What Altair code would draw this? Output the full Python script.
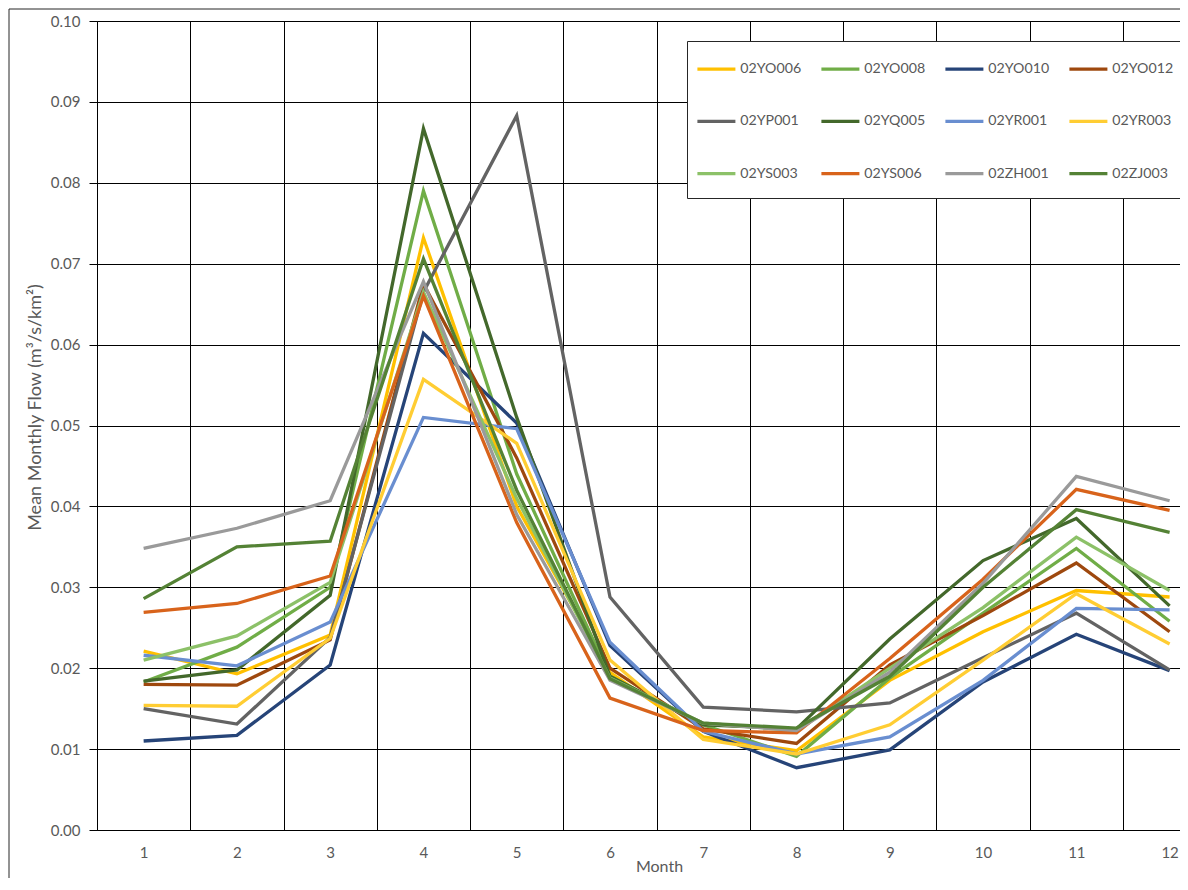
import altair as alt
import pandas as pd

months = list(range(1, 13))

stations = ["02YO006", "02YO008", "02YO010", "02YO012",
            "02YP001", "02YQ005", "02YR001", "02YR003",
            "02YS003", "02YS006", "02ZH001", "02ZJ003"]

colors = ["#FFC000", "#70AD47", "#264478", "#9E480E",
          "#636363", "#43682B", "#698ED0", "#FFCD33",
          "#8CC168", "#D8631B", "#9A9A9A", "#548235"]

yo006 = [0.0221, 0.0193, 0.0241, 0.0732, 0.0400, 0.0195, 0.0115, 0.0098, 0.0185, 0.0245, 0.0296, 0.0288]
yo008 = [0.0183, 0.0226, 0.0300, 0.0790, 0.0440, 0.0190, 0.0130, 0.0091, 0.0188, 0.0268, 0.0348, 0.0258]
yo010 = [0.0110, 0.0117, 0.0204, 0.0614, 0.0503, 0.0228, 0.0122, 0.0077, 0.0099, 0.0183, 0.0242, 0.0197]
yo012 = [0.0180, 0.0179, 0.0235, 0.0675, 0.0460, 0.0200, 0.0125, 0.0107, 0.0204, 0.0265, 0.0330, 0.0245]
yp001 = [0.0150, 0.0131, 0.0238, 0.0665, 0.0883, 0.0288, 0.0152, 0.0146, 0.0157, 0.0213, 0.0268, 0.0198]
yq005 = [0.0184, 0.0198, 0.0290, 0.0867, 0.0510, 0.0190, 0.0130, 0.0125, 0.0236, 0.0333, 0.0385, 0.0277]
yr001 = [0.0216, 0.0203, 0.0257, 0.0510, 0.0496, 0.0232, 0.0122, 0.0094, 0.0115, 0.0185, 0.0274, 0.0272]
yr003 = [0.0154, 0.0153, 0.0237, 0.0557, 0.0478, 0.0210, 0.0112, 0.0094, 0.0130, 0.0210, 0.0292, 0.0230]
ys003 = [0.0210, 0.0240, 0.0306, 0.0665, 0.0410, 0.0188, 0.0132, 0.0123, 0.0200, 0.0275, 0.0362, 0.0296]
ys006 = [0.0269, 0.0280, 0.0314, 0.0660, 0.0380, 0.0163, 0.0123, 0.0120, 0.0212, 0.0310, 0.0421, 0.0395]
zh001 = [0.0348, 0.0373, 0.0407, 0.0678, 0.0390, 0.0185, 0.0132, 0.0123, 0.0195, 0.0305, 0.0437, 0.0407]
zj003 = [0.0286, 0.0350, 0.0357, 0.0706, 0.0420, 0.0187, 0.0132, 0.0126, 0.0190, 0.0300, 0.0396, 0.0368]

series = [yo006, yo008, yo010, yo012, yp001, yq005,
          yr001, yr003, ys003, ys006, zh001, zj003]

y_ticks = [0.0, 0.01, 0.02, 0.03, 0.04, 0.05, 0.06, 0.07, 0.08, 0.09, 0.10]
x_bounds = [0.5, 1.5, 2.5, 3.5, 4.5, 5.5, 6.5, 7.5, 8.5, 9.5, 10.5, 11.5]

rows = []
for name, vals in zip(stations, series):
    for m, v in zip(months, vals):
        rows.append({"station": name, "month": m, "flow": v})
df = pd.DataFrame(rows)

W = 1083
H = 809
CAT = 93.27
FONT = "Lato"
TXT = "#595959"

x_axis = alt.Axis(
    values=x_bounds,
    labelExpr="format(datum.value + 0.5, 'd')",
    labelOffset=CAT / 2,
    grid=True, gridColor="#000000", gridWidth=1,
    ticks=False,
    domainColor="#000000", domainWidth=1,
    labelFont=FONT, labelFontSize=15, labelColor=TXT, labelPadding=15,
    labelFlush=False, labelOverlap=False,
    title="Month", titleFont=FONT, titleFontSize=16, titleColor=TXT,
    titleFontWeight="normal", titleX=562, titleY=36,
    titleAlign="center", titleBaseline="middle",
)

y_axis = alt.Axis(
    values=y_ticks, format=".2f",
    grid=True, gridColor="#000000", gridWidth=1,
    ticks=True, tickSize=8, tickColor="#000000", tickWidth=1,
    domainColor="#000000", domainWidth=1,
    labelFont=FONT, labelFontSize=15, labelColor=TXT, labelPadding=9,
    labelFlush=False, labelOverlap=False,
    title="Mean Monthly Flow (m³/s/km²)", titleFont=FONT, titleFontSize=18,
    titleColor=TXT, titleFontWeight="normal", titleAngle=270,
    titleX=-62, titleY=386, titleAlign="center", titleBaseline="middle",
)

legend = alt.Legend(
    orient="none", legendX=590, legendY=20, direction="horizontal", columns=4,
    title=None, symbolType="M-1,0H3", symbolSize=361, symbolStrokeWidth=3.3,
    labelFont=FONT, labelFontSize=14.2, labelColor=TXT,
    labelOffset=21.9, symbolOffset=-8.1, labelLimit=200, padding=16.5,
    strokeColor="#262626", fillColor="#FFFFFF",
    rowPadding=33.3, columnPadding=13, gridAlign="all",
)

lines = alt.Chart(df).mark_line(strokeWidth=3.3, clip=True).encode(
    x=alt.X("month:Q", scale=alt.Scale(domain=[0.5, 0.5 + W / CAT], nice=False, zero=False), axis=x_axis),
    y=alt.Y("flow:Q", scale=alt.Scale(domain=[0, 0.1], nice=False, zero=True), axis=y_axis),
    color=alt.Color("station:N", scale=alt.Scale(domain=stations, range=colors), legend=legend),
)

border = alt.Chart(alt.Data(values=[{"b": 1}])).mark_rect(
    fill="#FFFFFF", fillOpacity=0, stroke="#262626", strokeWidth=1
).encode(
    x=alt.value(-88), x2=alt.value(W + 40),
    y=alt.value(-12), y2=alt.value(H + 100),
)

chart = alt.layer(border, lines).properties(
    width=W, height=H,
    autosize=alt.AutoSizeParams(type="none"),
    padding={"left": 89, "top": 13, "right": 0, "bottom": 48},
).configure_view(stroke=None).configure(background="#FFFFFF")

chart.save("out.html", embed_options={"renderer": "svg", "actions": False})
